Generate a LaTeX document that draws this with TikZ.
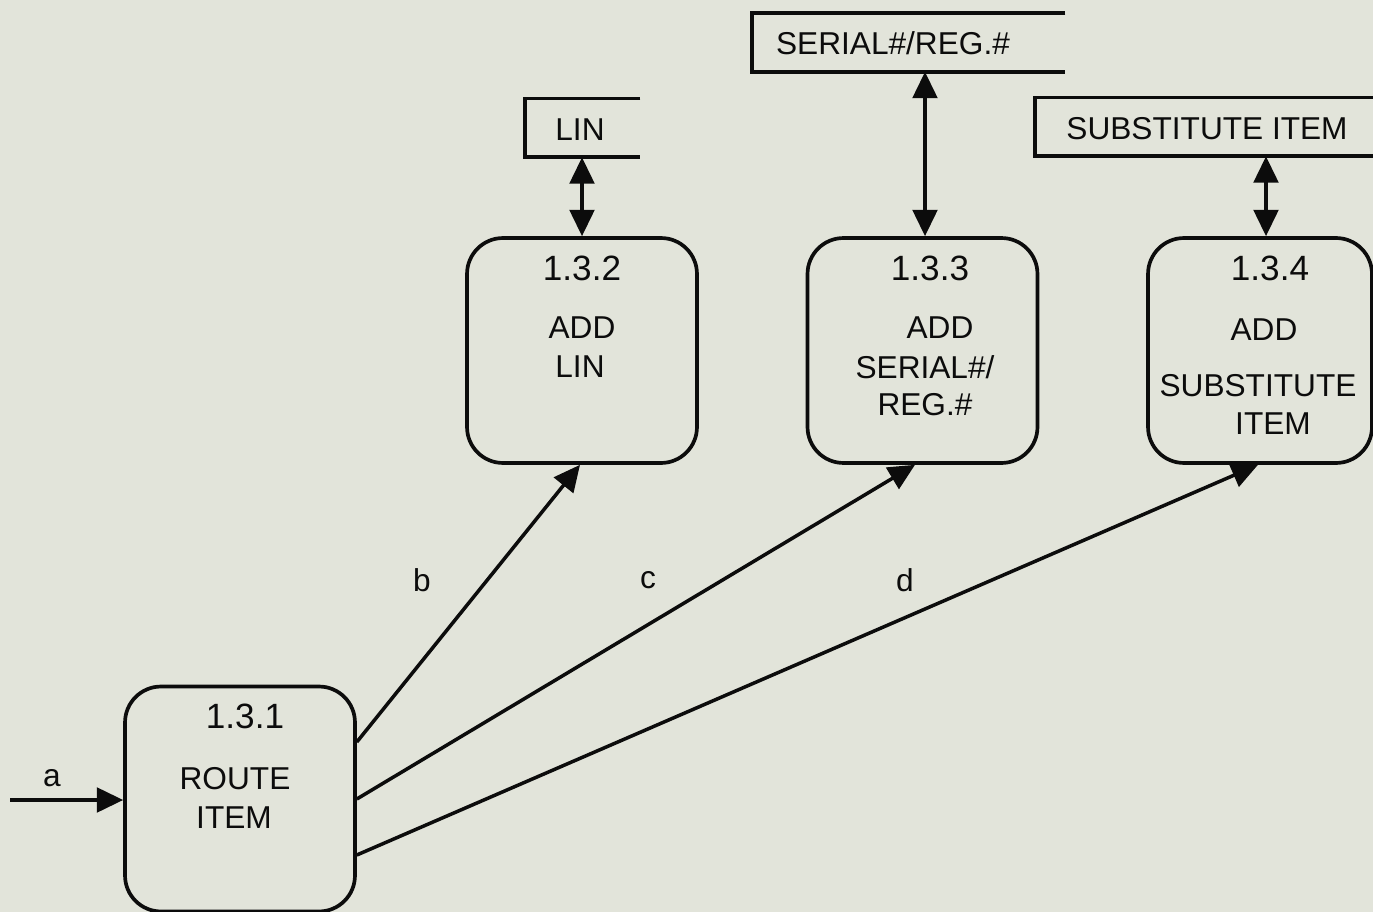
\documentclass[tikz,border=0pt]{standalone}
\usepackage{fontspec}
\setmainfont{Liberation Sans}
\usetikzlibrary{arrows.meta}
\definecolor{paper}{RGB}{226,228,218}
\definecolor{ink}{RGB}{12,12,12}
\tikzset{
  proc/.style={draw=ink, line width=2.1pt, rounded corners=0.72cm, minimum width=4.6cm, minimum height=4.5cm, inner sep=0pt},
  store/.style={minimum height=1.16cm, inner sep=0pt},
  storeline/.style={draw=ink, line width=2.1pt},
  num/.style={font=\fontsize{20}{24}\selectfont, text=ink, inner sep=0pt},
  lbl/.style={font=\fontsize{18}{22}\selectfont, text=ink, inner sep=0pt},
  flow/.style={draw=ink, line width=2pt, -{Triangle[length=15pt,width=14pt]}},
  twoway/.style={draw=ink, line width=2pt, {Triangle[length=15pt,width=14pt]}-{Triangle[length=15pt,width=14pt]}}
}
\begin{document}
\begin{tikzpicture}[x=0.02cm,y=-0.02cm]
  \fill[paper] (0,0) rectangle (1373,912);
  \useasboundingbox (0,0) rectangle (1373,912);

  % processes
  \node[proc] (r1) at (240,799) {};
  \node[proc] (r2) at (582,350.5) {};
  \node[proc] (r3) at (922.5,350.5) {};
  \node[proc, minimum width=4.48cm] (r4) at (1260,350.5) {};

  \node[num] (n1) at (245,716) {1.3.1};
  \node[lbl] (t1a) at (235,779) {ROUTE};
  \node[lbl] (t1b) at (234,818) {ITEM};

  \node[num] (n2) at (582,268) {1.3.2};
  \node[lbl] (t2a) at (582,328) {ADD};
  \node[lbl] (t2b) at (580,367) {LIN};

  \node[num] (n3) at (930,268) {1.3.3};
  \node[lbl] (t3a) at (940,328) {ADD};
  \node[lbl] (t3b) at (925,367) {SERIAL\#/};
  \node[lbl] (t3c) at (925,405) {REG.\#};

  \node[num] (n4) at (1270,268) {1.3.4};
  \node[lbl] (t4a) at (1264,330) {ADD};
  \node[lbl] (t4b) at (1258,386) {SUBSTITUTE};
  \node[lbl] (t4c) at (1273,424) {ITEM};

  % data stores (open on the right)
  \node[store, minimum width=2.3cm] (s1) at (582.5,128) {};
  \node[store, minimum width=6.26cm] (s2) at (908.5,42.5) {};
  \node[store, minimum width=6.76cm] (s3) at (1204,127) {};
  \draw[storeline] (s1.north east) -- (s1.north west) -- (s1.south west) -- (s1.south east);
  \draw[storeline] (s2.north east) -- (s2.north west) -- (s2.south west) -- (s2.south east);
  \draw[storeline] (s3.north east) -- (s3.north west) -- (s3.south west) -- (s3.south east);
  \node[lbl] (l1) at (580,130) {LIN};
  \node[lbl] (l2) at (893,43) {SERIAL\#/REG.\#};
  \node[lbl] (l3) at (1207,129) {SUBSTITUTE ITEM};

  % store access
  \draw[twoway] (s1.south -| r2.north) -- (r2.north);
  \draw[twoway] ([xshift=0.05cm]s2.south -| r3.north) -- ([xshift=0.05cm]r3.north);
  \draw[twoway] ([xshift=0.12cm]s3.south -| r4.north) -- ([xshift=0.12cm]r4.north);

  % flows
  \coordinate (in) at (10,800);
  \draw[flow] (in) -- (in -| r1.west);
  \draw[flow] ([yshift=1.14cm]r1.east) -- ([xshift=-0.04cm]r2.south);
  \draw[flow] (r1.east) -- ([xshift=-0.15cm]r3.south);
  \draw[flow] ([yshift=-1.12cm]r1.east) -- ([xshift=-0.04cm]r4.south);

  \node[lbl] (fa) at (52,778) {a};
  \node[lbl] (fb) at (422,580) {b};
  \node[lbl] (fc) at (648,580) {c};
  \node[lbl] (fd) at (905,580) {d};
\end{tikzpicture}
\end{document}
